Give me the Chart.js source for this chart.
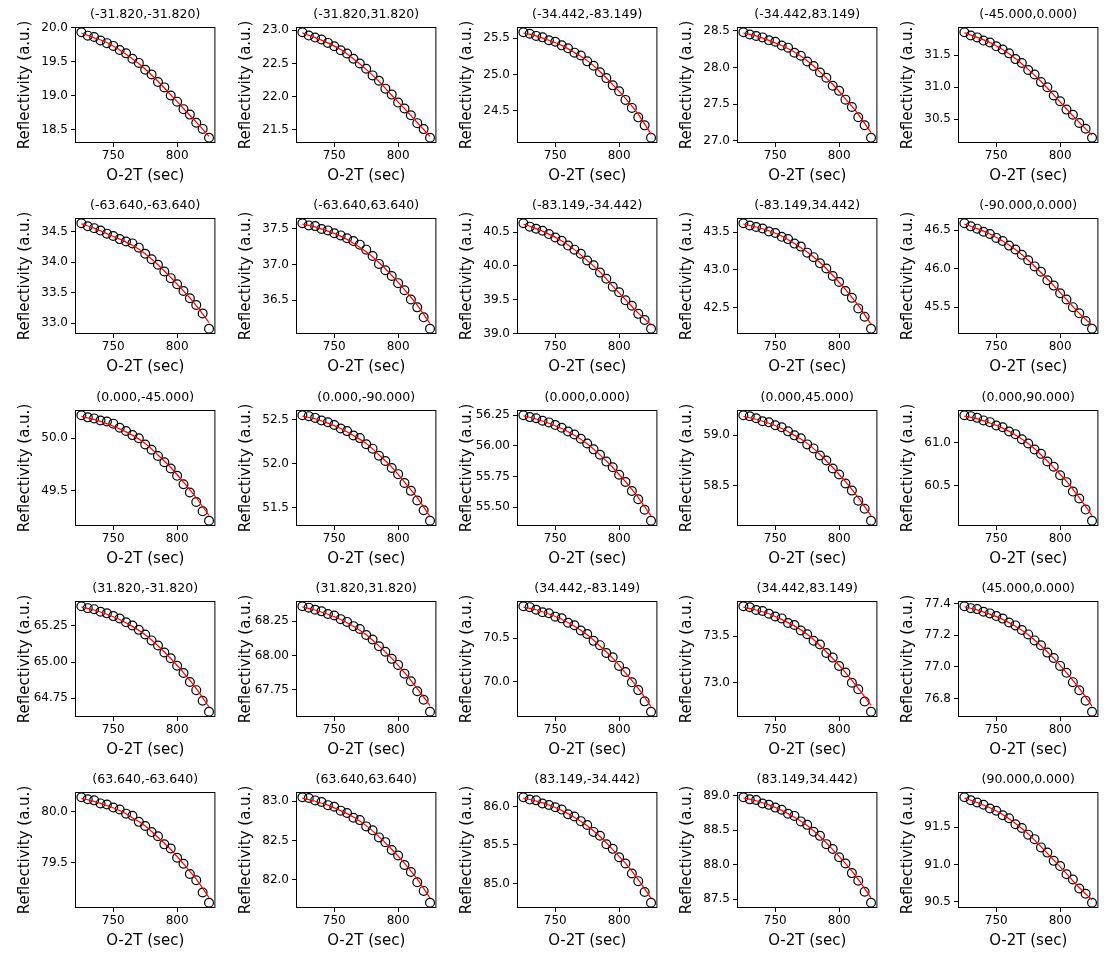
<!DOCTYPE html>
<html>
<head>
<meta charset="utf-8">
<script src="https://cdn.jsdelivr.net/npm/chart.js@4.4.1/dist/chart.umd.min.js"></script>
<style>
  html, body { margin: 0; padding: 0; background: #fff; }
  #fig { position: relative; width: 1109px; height: 959px; }
  #fig canvas { position: absolute; }
</style>
</head>
<body>
<div id="fig"></div>
<script>
// O-2T sampling (sec) of the measured points and of the fitted curve
const timeSec = [725, 730, 735, 740, 745, 750, 755, 760, 765, 770, 775, 780, 785, 790, 795, 800, 805, 810, 815, 820, 825];
const fitTime = [725, 735, 745, 755, 765, 775, 785, 795, 805, 815, 825];
const xTicks = [750, 800];

const titles = [
  "(-31.820,-31.820)", "(-31.820,31.820)", "(-34.442,-83.149)", "(-34.442,83.149)", "(-45.000,0.000)",
  "(-63.640,-63.640)", "(-63.640,63.640)", "(-83.149,-34.442)", "(-83.149,34.442)", "(-90.000,0.000)",
  "(0.000,-45.000)", "(0.000,-90.000)", "(0.000,0.000)", "(0.000,45.000)", "(0.000,90.000)",
  "(31.820,-31.820)", "(31.820,31.820)", "(34.442,-83.149)", "(34.442,83.149)", "(45.000,0.000)",
  "(63.640,-63.640)", "(63.640,63.640)", "(83.149,-34.442)", "(83.149,34.442)", "(90.000,0.000)"
];

// measured reflectivity (a.u.), one list per panel
const reflectivity = [
  [19.93, 19.88, 19.86, 19.81, 19.77, 19.73, 19.67, 19.62, 19.54, 19.48, 19.38, 19.31, 19.20, 19.12, 19.00, 18.91, 18.80, 18.72, 18.60, 18.51, 18.38],
  [22.97, 22.92, 22.89, 22.86, 22.81, 22.76, 22.70, 22.65, 22.57, 22.50, 22.42, 22.32, 22.24, 22.12, 22.03, 21.91, 21.82, 21.72, 21.60, 21.51, 21.38],
  [25.58, 25.56, 25.53, 25.51, 25.47, 25.45, 25.40, 25.36, 25.30, 25.26, 25.18, 25.12, 25.03, 24.95, 24.85, 24.77, 24.65, 24.54, 24.41, 24.30, 24.13],
  [28.48, 28.45, 28.43, 28.41, 28.37, 28.35, 28.30, 28.27, 28.20, 28.16, 28.08, 28.02, 27.93, 27.86, 27.75, 27.68, 27.56, 27.46, 27.32, 27.21, 27.04],
  [31.86, 31.81, 31.78, 31.73, 31.70, 31.64, 31.59, 31.53, 31.44, 31.38, 31.27, 31.20, 31.08, 31.00, 30.87, 30.78, 30.65, 30.57, 30.44, 30.35, 30.21],
  [34.64, 34.59, 34.56, 34.52, 34.47, 34.43, 34.38, 34.34, 34.31, 34.24, 34.14, 34.05, 33.96, 33.85, 33.74, 33.64, 33.53, 33.41, 33.30, 33.16, 32.91],
  [37.58, 37.55, 37.54, 37.50, 37.48, 37.44, 37.41, 37.37, 37.33, 37.28, 37.21, 37.12, 37.01, 36.92, 36.84, 36.74, 36.64, 36.51, 36.40, 36.26, 36.10],
  [40.63, 40.58, 40.55, 40.52, 40.47, 40.42, 40.37, 40.30, 40.24, 40.18, 40.08, 40.01, 39.90, 39.81, 39.69, 39.61, 39.49, 39.41, 39.29, 39.20, 39.07],
  [43.62, 43.59, 43.57, 43.55, 43.51, 43.49, 43.44, 43.41, 43.35, 43.31, 43.23, 43.17, 43.09, 43.02, 42.92, 42.84, 42.72, 42.63, 42.49, 42.38, 42.22],
  [46.59, 46.55, 46.52, 46.48, 46.45, 46.40, 46.36, 46.30, 46.25, 46.18, 46.11, 46.03, 45.96, 45.85, 45.78, 45.68, 45.60, 45.50, 45.42, 45.32, 45.22],
  [50.22, 50.20, 50.19, 50.17, 50.16, 50.14, 50.10, 50.07, 50.03, 50.00, 49.94, 49.89, 49.83, 49.77, 49.71, 49.64, 49.56, 49.48, 49.39, 49.30, 49.21],
  [52.55, 52.54, 52.52, 52.49, 52.47, 52.44, 52.40, 52.37, 52.32, 52.29, 52.22, 52.17, 52.09, 52.03, 51.95, 51.88, 51.78, 51.69, 51.58, 51.47, 51.35],
  [56.250, 56.235, 56.226, 56.205, 56.192, 56.170, 56.148, 56.118, 56.093, 56.058, 56.020, 55.972, 55.928, 55.872, 55.826, 55.765, 55.706, 55.632, 55.565, 55.480, 55.390],
  [59.20, 59.19, 59.17, 59.14, 59.13, 59.10, 59.08, 59.04, 59.00, 58.97, 58.91, 58.87, 58.80, 58.75, 58.67, 58.61, 58.52, 58.45, 58.35, 58.27, 58.15],
  [61.32, 61.31, 61.29, 61.26, 61.24, 61.20, 61.18, 61.13, 61.10, 61.04, 60.99, 60.92, 60.87, 60.78, 60.72, 60.62, 60.54, 60.43, 60.35, 60.22, 60.09],
  [65.386, 65.373, 65.366, 65.348, 65.337, 65.318, 65.301, 65.275, 65.253, 65.223, 65.191, 65.150, 65.115, 65.066, 65.027, 64.975, 64.925, 64.862, 64.806, 64.733, 64.657],
  [68.360, 68.350, 68.335, 68.323, 68.304, 68.293, 68.266, 68.246, 68.215, 68.194, 68.150, 68.117, 68.068, 68.028, 67.976, 67.932, 67.868, 67.812, 67.740, 67.678, 67.590],
  [70.87, 70.86, 70.83, 70.80, 70.79, 70.75, 70.73, 70.68, 70.65, 70.59, 70.55, 70.47, 70.42, 70.33, 70.28, 70.18, 70.11, 69.99, 69.90, 69.77, 69.65],
  [73.82, 73.81, 73.78, 73.77, 73.74, 73.71, 73.69, 73.64, 73.62, 73.56, 73.52, 73.45, 73.41, 73.32, 73.27, 73.18, 73.11, 73.00, 72.93, 72.80, 72.69],
  [77.383, 77.371, 77.365, 77.348, 77.338, 77.321, 77.305, 77.280, 77.262, 77.233, 77.205, 77.167, 77.136, 77.090, 77.056, 77.006, 76.962, 76.903, 76.852, 76.786, 76.716],
  [80.14, 80.12, 80.11, 80.08, 80.07, 80.04, 80.02, 79.98, 79.96, 79.90, 79.86, 79.80, 79.76, 79.68, 79.64, 79.55, 79.49, 79.39, 79.33, 79.21, 79.11],
  [83.05, 83.04, 83.01, 82.99, 82.95, 82.93, 82.88, 82.85, 82.79, 82.76, 82.68, 82.63, 82.54, 82.48, 82.38, 82.31, 82.19, 82.10, 81.97, 81.86, 81.71],
  [86.12, 86.09, 86.08, 86.04, 86.02, 85.99, 85.96, 85.90, 85.87, 85.81, 85.76, 85.67, 85.62, 85.51, 85.45, 85.34, 85.26, 85.13, 85.03, 84.89, 84.75],
  [88.98, 88.95, 88.94, 88.89, 88.87, 88.83, 88.80, 88.74, 88.71, 88.63, 88.58, 88.48, 88.42, 88.30, 88.23, 88.11, 88.02, 87.88, 87.77, 87.61, 87.45],
  [91.90, 91.86, 91.83, 91.80, 91.75, 91.72, 91.66, 91.62, 91.54, 91.49, 91.40, 91.34, 91.23, 91.16, 91.05, 90.98, 90.87, 90.80, 90.68, 90.61, 90.49]
];

// fitted curve, sampled at fitTime
const fitted = [
  [19.92, 19.85, 19.78, 19.67, 19.54, 19.39, 19.21, 19.01, 18.81, 18.61, 18.40],
  [22.96, 22.89, 22.81, 22.71, 22.57, 22.41, 22.23, 22.02, 21.82, 21.61, 21.40],
  [25.57, 25.53, 25.47, 25.40, 25.30, 25.19, 25.04, 24.86, 24.67, 24.45, 24.18],
  [28.47, 28.43, 28.37, 28.30, 28.21, 28.09, 27.94, 27.77, 27.57, 27.36, 27.11],
  [31.85, 31.78, 31.70, 31.59, 31.45, 31.28, 31.09, 30.88, 30.66, 30.45, 30.25],
  [34.63, 34.56, 34.47, 34.38, 34.28, 34.14, 33.96, 33.75, 33.53, 33.29, 33.01],
  [37.57, 37.53, 37.47, 37.40, 37.30, 37.18, 37.03, 36.85, 36.65, 36.43, 36.17],
  [40.62, 40.55, 40.47, 40.37, 40.24, 40.08, 39.91, 39.70, 39.50, 39.30, 39.13],
  [43.61, 43.57, 43.52, 43.45, 43.35, 43.24, 43.10, 42.93, 42.74, 42.53, 42.28],
  [46.58, 46.52, 46.45, 46.36, 46.25, 46.11, 45.95, 45.78, 45.60, 45.42, 45.27],
  [50.21, 50.18, 50.14, 50.09, 50.03, 49.95, 49.84, 49.72, 49.58, 49.43, 49.26],
  [52.54, 52.51, 52.46, 52.40, 52.32, 52.23, 52.10, 51.96, 51.79, 51.61, 51.40],
  [56.246, 56.220, 56.185, 56.142, 56.087, 56.018, 55.927, 55.824, 55.708, 55.579, 55.429],
  [59.19, 59.16, 59.12, 59.07, 59.00, 58.92, 58.81, 58.68, 58.54, 58.38, 58.20],
  [61.31, 61.28, 61.23, 61.17, 61.09, 60.99, 60.86, 60.71, 60.55, 60.36, 60.15],
  [65.382, 65.360, 65.331, 65.295, 65.247, 65.189, 65.113, 65.025, 64.927, 64.817, 64.690],
  [68.356, 68.333, 68.302, 68.264, 68.214, 68.152, 68.071, 67.979, 67.875, 67.759, 67.635],
  [70.86, 70.83, 70.78, 70.72, 70.64, 70.54, 70.41, 70.27, 70.10, 69.92, 69.71],
  [73.81, 73.78, 73.74, 73.68, 73.61, 73.52, 73.40, 73.26, 73.11, 72.94, 72.76],
  [77.380, 77.360, 77.333, 77.300, 77.256, 77.203, 77.133, 77.053, 76.963, 76.863, 76.752],
  [80.13, 80.10, 80.06, 80.01, 79.94, 79.86, 79.75, 79.63, 79.49, 79.34, 79.16],
  [83.04, 83.00, 82.95, 82.88, 82.80, 82.69, 82.55, 82.39, 82.21, 82.01, 81.77],
  [86.11, 86.07, 86.02, 85.95, 85.86, 85.75, 85.61, 85.44, 85.26, 85.05, 84.81],
  [88.97, 88.93, 88.87, 88.79, 88.69, 88.57, 88.41, 88.22, 88.02, 87.79, 87.52],
  [91.89, 91.83, 91.76, 91.67, 91.55, 91.41, 91.24, 91.06, 90.88, 90.69, 90.53]
];

const yTicks = [
  ["18.5", "19.0", "19.5", "20.0"], ["21.5", "22.0", "22.5", "23.0"], ["24.5", "25.0", "25.5"],
  ["27.0", "27.5", "28.0", "28.5"], ["30.5", "31.0", "31.5"],
  ["33.0", "33.5", "34.0", "34.5"], ["36.5", "37.0", "37.5"], ["39.0", "39.5", "40.0", "40.5"],
  ["42.5", "43.0", "43.5"], ["45.5", "46.0", "46.5"],
  ["49.5", "50.0"], ["51.5", "52.0", "52.5"], ["55.50", "55.75", "56.00", "56.25"],
  ["58.5", "59.0"], ["60.5", "61.0"],
  ["64.75", "65.00", "65.25"], ["67.75", "68.00", "68.25"], ["70.0", "70.5"],
  ["73.0", "73.5"], ["76.8", "77.0", "77.2", "77.4"],
  ["79.5", "80.0"], ["82.0", "82.5", "83.0"], ["85.0", "85.5", "86.0"],
  ["87.5", "88.0", "88.5", "89.0"], ["90.5", "91.0", "91.5"]
];

Chart.defaults.font.family = "'DejaVu Sans', sans-serif";
Chart.defaults.color = "#000";

// box around the axes plus the panel title
const framePlugin = {
  id: "frame",
  afterDraw(chart, args, opts) {
    const { ctx, chartArea: a } = chart;
    ctx.save();
    ctx.strokeStyle = "#000";
    ctx.lineWidth = 1;
    ctx.strokeRect(a.left + 0.5, a.top + 0.5, a.width - 1, a.height - 1);
    ctx.font = "12.5px 'DejaVu Sans'";
    ctx.fillStyle = "#000";
    ctx.textAlign = "center";
    ctx.textBaseline = "middle";
    ctx.fillText(opts.text, (a.left + a.right) / 2, a.top - 12);
    ctx.restore();
  },
};

const fig = document.getElementById("fig");

titles.forEach((title, i) => {
  const col = i % 5;
  const row = Math.floor(i / 5);
  const canvas = document.createElement("canvas");
  canvas.width = 221;
  canvas.height = 191;
  canvas.style.left = Math.round(220.8 * col) + "px";
  canvas.style.top = Math.round(191.35 * row) + "px";
  fig.appendChild(canvas);

  const all = reflectivity[i].concat(fitted[i]);
  const lo = Math.min(...all);
  const hi = Math.max(...all);
  const pad = (hi - lo) * 0.05;

  new Chart(canvas, {
    type: "scatter",
    data: {
      datasets: [
        {
          label: "fit",
          data: fitTime.map((t, k) => ({ x: t, y: fitted[i][k] })),
          showLine: true,
          borderColor: "#ff0000",
          borderWidth: 1.2,
          pointRadius: 0,
          cubicInterpolationMode: "monotone",
        },
        {
          label: "data",
          data: timeSec.map((t, k) => ({ x: t, y: reflectivity[i][k] })),
          showLine: false,
          pointStyle: "circle",
          pointRadius: 4.4,
          pointBorderWidth: 1.2,
          pointBorderColor: "#000",
          pointBackgroundColor: "rgba(0,0,0,0)",
        },
      ],
    },
    options: {
      responsive: false,
      animation: false,
      events: [],
      layout: { padding: { top: 27, right: 5, left: 0, bottom: 0 } },
      plugins: {
        legend: { display: false },
        tooltip: { enabled: false },
        frame: { text: title },
      },
      scales: {
        x: {
          type: "linear",
          min: 720,
          max: 830,
          afterBuildTicks: (scale) => {
            scale.ticks = xTicks.map((v) => ({ value: v }));
          },
          afterFit: (scale) => {
            scale.height = 48;
          },
          border: { display: false },
          grid: { drawOnChartArea: false, drawTicks: true, tickLength: 4, tickColor: "#000" },
          ticks: { font: { size: 12 }, padding: 2, maxRotation: 0, autoSkip: false },
          title: {
            display: true,
            text: "O-2T (sec)",
            font: { size: 15 },
            padding: { top: 0, bottom: 6 },
          },
        },
        y: {
          type: "linear",
          min: lo - pad,
          max: hi + pad,
          afterBuildTicks: (scale) => {
            scale.ticks = yTicks[i].map((s) => ({ value: parseFloat(s) }));
          },
          afterFit: (scale) => {
            scale.width = 75;
          },
          border: { display: false },
          grid: { drawOnChartArea: false, drawTicks: true, tickLength: 4, tickColor: "#000" },
          ticks: {
            font: { size: 12 },
            padding: 3,
            autoSkip: false,
            callback: (value, index) => yTicks[i][index],
          },
          title: {
            display: true,
            text: "Reflectivity (a.u.)",
            font: { size: 15 },
            padding: { top: 16, bottom: 0 },
          },
        },
      },
    },
    plugins: [framePlugin],
  });
});
</script>
</body>
</html>
